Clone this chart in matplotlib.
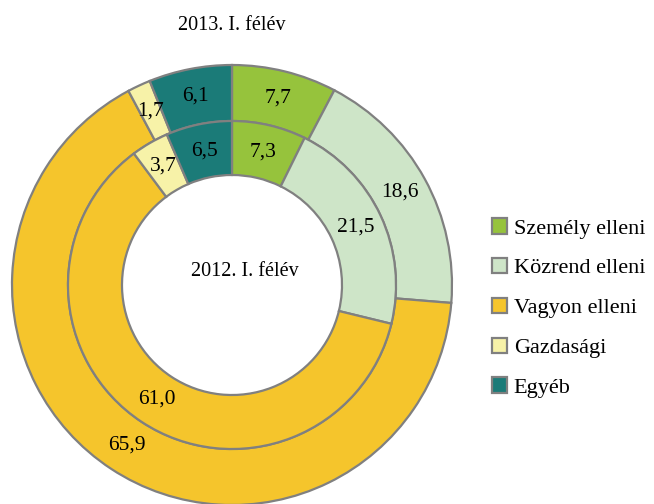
import matplotlib.pyplot as plt

categories = ['Személy elleni', 'Közrend elleni', 'Vagyon elleni', 'Gazdasági', 'Egyéb']
values_2013 = [7.7, 18.6, 65.9, 1.7, 6.1]
values_2012 = [7.3, 21.5, 61.0, 3.7, 6.5]
colors = ['#96c33c', '#cee5c8', '#f5c52c', '#f7f2a8', '#1b7b78']

plt.rcParams['font.family'] = ['Liberation Serif', 'DejaVu Serif']

fig = plt.figure(figsize=(6.54, 5.04), dpi=100)
ax = fig.add_axes([0, 0, 1, 1])

cx, cy = 232, 219
edge = dict(edgecolor='#808080', linewidth=1.6)

def fmt(p):
    return f'{p:.1f}'.replace('.', ',')

outer, _, _ = ax.pie(values_2013, colors=colors, startangle=90, counterclock=False,
                     radius=220, center=(cx, cy), wedgeprops=dict(width=56, **edge),
                     autopct=fmt, pctdistance=0.873, textprops=dict(fontsize=15.5))
ax.pie(values_2012, colors=colors, startangle=90, counterclock=False,
       radius=164, center=(cx, cy), wedgeprops=dict(width=54, **edge),
       autopct=fmt, pctdistance=0.835, textprops=dict(fontsize=15.5))

ax.text(245, 504 - 272, '2012. I. félév', ha='center', va='center', fontsize=14.5)
ax.text(232, 504 - 25, '2013. I. félév', ha='center', va='center', fontsize=14.5)

ax.set_xlim(0, 654)
ax.set_ylim(0, 504)
ax.set_aspect('equal')
ax.axis('off')

fig.legend(outer, categories, loc='center left', bbox_to_anchor=(492 / 654, 1 - 308 / 504),
           frameon=False, fontsize=16, handlelength=0.68, handleheight=0.68,
           handletextpad=0.3, labelspacing=0.87, borderpad=0, borderaxespad=0)

fig.savefig('out.png', dpi=100)
